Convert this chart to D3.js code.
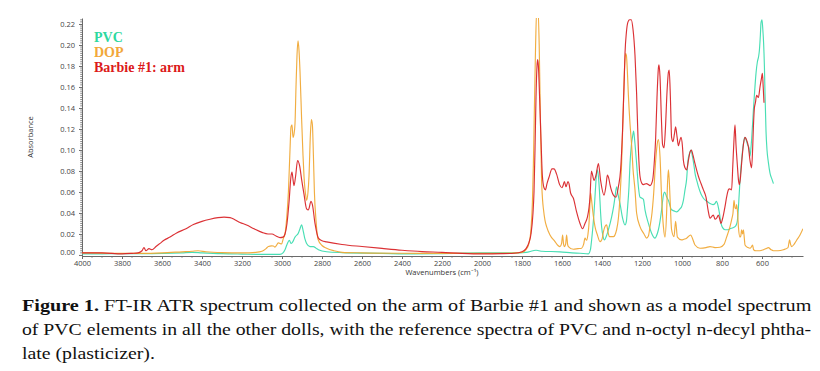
<!DOCTYPE html>
<html><head><meta charset="utf-8">
<script src="https://cdn.jsdelivr.net/npm/d3@7"></script>
<style>
html,body{margin:0;padding:0;background:#fff;}
svg{display:block;}
</style></head>
<body>
<svg id="chart" width="820" height="371"></svg>
<script>
// ---- data (wavenumber in cm-1, absorbance) ----
const pvcWn = [4000,3900,3800,3700,3600,3500,3450,3400,3300,3200,3100,3010,2995,2985,2975,2963,2955,2948,2935,2918,2910,2902,2893,2885,2877,2860,2843,2830,2818,2777,2700,2500,2343,2200,2010,1850,1780,1745,1730,1715,1700,1610,1550,1510,1468,1458,1452,1445,1440,1433,1427,1423,1418,1413,1407,1402,1395,1388,1378,1368,1352,1342,1335,1327,1320,1310,1297,1285,1278,1273,1265,1260,1253,1247,1242,1237,1227,1218,1210,1200,1193,1185,1168,1152,1135,1128,1118,1110,1102,1092,1087,1078,1068,1052,1040,1027,1010,1002,993,985,977,970,962,955,948,940,935,925,918,905,893,875,860,845,835,828,820,813,805,797,785,770,760,745,735,728,723,717,710,702,693,686,680,672,665,660,656,652,647,643,636,630,623,617,613,608,605,600,596,592,588,585,580,575,568,560,550,543];
const pvcAbs = [0.001,0.001,0.0012,0.0012,0.0014,0.002,0.0025,0.002,0.0012,0.0008,0.0005,0.0006,0.002,0.005,0.010,0.014,0.011,0.012,0.017,0.021,0.025,0.0286,0.022,0.015,0.011,0.008,0.008,0.0065,0.005,0.003,0.0022,0.0015,0.001,0.0012,0.002,0.002,0.0025,0.004,0.0045,0.004,0.0035,0.003,0.002,0.0016,0.001,0.005,0.014,0.028,0.040,0.062,0.078,0.081,0.075,0.062,0.040,0.027,0.018,0.0143,0.018,0.024,0.036,0.046,0.055,0.065,0.058,0.049,0.035,0.0286,0.032,0.043,0.065,0.087,0.105,0.113,0.118,0.110,0.087,0.065,0.055,0.054,0.053,0.043,0.030,0.0207,0.016,0.018,0.024,0.032,0.043,0.058,0.060,0.056,0.052,0.043,0.042,0.041,0.044,0.046,0.052,0.062,0.072,0.090,0.097,0.100,0.094,0.085,0.078,0.070,0.065,0.058,0.054,0.051,0.049,0.048,0.049,0.051,0.047,0.040,0.030,0.026,0.024,0.024,0.025,0.026,0.027,0.029,0.033,0.048,0.071,0.090,0.106,0.112,0.110,0.105,0.102,0.094,0.100,0.110,0.125,0.138,0.158,0.173,0.184,0.189,0.195,0.210,0.221,0.224,0.215,0.202,0.180,0.154,0.118,0.100,0.088,0.078,0.072,0.068];

const dopWn = [4000,3900,3800,3700,3600,3500,3450,3420,3380,3300,3200,3130,3100,3080,3068,3052,3043,3035,3018,3002,2993,2985,2977,2968,2960,2955,2950,2945,2940,2935,2930,2925,2920,2915,2910,2902,2895,2890,2880,2877,2870,2865,2858,2853,2848,2843,2838,2830,2820,2800,2777,2740,2700,2600,2400,2200,2000,1850,1800,1780,1765,1755,1748,1743,1738,1732,1726,1720,1714,1708,1702,1697,1693,1685,1677,1660,1635,1620,1610,1602,1597,1592,1588,1582,1577,1572,1568,1543,1520,1502,1492,1485,1477,1470,1465,1460,1457,1452,1447,1435,1423,1410,1400,1393,1385,1377,1370,1363,1343,1327,1318,1310,1302,1295,1288,1282,1278,1272,1268,1260,1252,1245,1235,1227,1210,1190,1177,1168,1160,1150,1143,1130,1122,1118,1110,1102,1093,1085,1077,1072,1068,1064,1060,1052,1040,1032,1023,1002,990,977,965,957,948,935,910,880,860,835,810,790,777,760,750,745,740,735,730,727,722,718,710,706,702,697,693,688,685,670,660,652,647,642,630,610,593,580,568,555,543,520,493,470,462,457,452,440,427,410,395];
const dopAbs = [0.002,0.0018,0.0015,0.0015,0.002,0.003,0.0035,0.004,0.003,0.0022,0.002,0.0025,0.0035,0.006,0.008,0.0086,0.0085,0.0075,0.0115,0.0105,0.016,0.020,0.034,0.060,0.100,0.122,0.124,0.112,0.115,0.125,0.160,0.190,0.204,0.195,0.175,0.130,0.095,0.075,0.055,0.052,0.060,0.075,0.115,0.129,0.124,0.095,0.060,0.033,0.015,0.009,0.0064,0.004,0.0025,0.002,0.0016,0.0015,0.0015,0.0018,0.0025,0.005,0.011,0.025,0.050,0.087,0.140,0.200,0.235,0.235,0.200,0.130,0.071,0.052,0.044,0.033,0.027,0.019,0.0127,0.009,0.008,0.011,0.019,0.010,0.008,0.010,0.019,0.010,0.008,0.0054,0.006,0.0064,0.010,0.016,0.014,0.020,0.030,0.050,0.059,0.052,0.043,0.027,0.019,0.0127,0.015,0.022,0.027,0.0286,0.022,0.0174,0.0174,0.024,0.035,0.055,0.087,0.130,0.175,0.192,0.190,0.170,0.152,0.125,0.105,0.082,0.062,0.040,0.027,0.020,0.016,0.018,0.027,0.040,0.055,0.094,0.108,0.110,0.094,0.055,0.027,0.017,0.040,0.070,0.081,0.072,0.055,0.024,0.0174,0.032,0.017,0.0143,0.015,0.016,0.018,0.019,0.016,0.0095,0.0064,0.007,0.008,0.007,0.0073,0.010,0.017,0.027,0.035,0.040,0.052,0.045,0.044,0.048,0.040,0.027,0.017,0.018,0.024,0.020,0.024,0.015,0.0095,0.007,0.0064,0.008,0.0095,0.005,0.004,0.004,0.005,0.006,0.007,0.005,0.004,0.004,0.005,0.007,0.0143,0.010,0.008,0.010,0.014,0.019,0.025];

const armWn = [4000,3900,3800,3750,3720,3700,3690,3680,3665,3650,3630,3610,3590,3560,3527,3480,3443,3400,3360,3320,3290,3260,3240,3210,3177,3140,3100,3070,3050,3030,3010,2995,2985,2975,2965,2955,2950,2945,2940,2932,2922,2912,2902,2890,2877,2868,2855,2848,2835,2818,2800,2777,2700,2600,2500,2400,2300,2200,2100,2000,1900,1840,1800,1780,1765,1755,1745,1740,1735,1730,1725,1722,1718,1712,1705,1698,1690,1683,1675,1665,1650,1640,1627,1612,1600,1595,1588,1580,1570,1565,1557,1543,1527,1510,1497,1485,1473,1465,1460,1453,1447,1440,1430,1418,1407,1390,1380,1373,1365,1360,1343,1330,1318,1307,1297,1290,1285,1278,1270,1262,1254,1245,1235,1227,1218,1210,1200,1193,1177,1168,1160,1147,1138,1132,1125,1118,1115,1110,1103,1097,1090,1083,1075,1068,1064,1058,1052,1045,1038,1032,1025,1018,1012,1005,998,993,985,977,968,960,953,945,935,918,905,893,880,868,860,850,843,835,827,818,810,805,798,793,785,777,768,763,752,746,740,735,730,723,718,713,707,702,693,685,678,668,660,652,647,643,638,633,627,618,610,603,598,594,590];
const armAbs = [0.002,0.002,0.001,0.0015,0.002,0.004,0.007,0.004,0.006,0.005,0.008,0.011,0.014,0.017,0.021,0.025,0.029,0.032,0.034,0.0355,0.036,0.0355,0.034,0.031,0.0285,0.025,0.0215,0.020,0.020,0.018,0.0165,0.017,0.020,0.030,0.050,0.075,0.079,0.072,0.066,0.075,0.090,0.085,0.072,0.058,0.044,0.043,0.051,0.048,0.030,0.016,0.0135,0.0125,0.010,0.008,0.0062,0.0045,0.0032,0.0025,0.0015,0.001,0.0012,0.0016,0.003,0.006,0.012,0.020,0.040,0.060,0.100,0.150,0.180,0.186,0.180,0.150,0.110,0.075,0.064,0.062,0.068,0.074,0.082,0.082,0.077,0.067,0.064,0.066,0.070,0.065,0.070,0.068,0.059,0.054,0.041,0.030,0.025,0.030,0.036,0.045,0.055,0.080,0.076,0.071,0.076,0.087,0.071,0.057,0.066,0.076,0.072,0.067,0.057,0.055,0.065,0.081,0.120,0.160,0.192,0.212,0.222,0.224,0.224,0.215,0.190,0.154,0.100,0.075,0.068,0.067,0.068,0.067,0.066,0.071,0.090,0.110,0.150,0.178,0.181,0.170,0.130,0.105,0.102,0.120,0.155,0.174,0.176,0.150,0.112,0.108,0.115,0.122,0.113,0.104,0.108,0.112,0.104,0.090,0.083,0.081,0.090,0.098,0.100,0.095,0.087,0.075,0.068,0.062,0.055,0.041,0.035,0.037,0.038,0.034,0.035,0.038,0.033,0.030,0.034,0.038,0.046,0.055,0.062,0.063,0.062,0.085,0.110,0.124,0.105,0.085,0.072,0.067,0.075,0.087,0.105,0.112,0.110,0.103,0.090,0.083,0.100,0.122,0.140,0.145,0.152,0.150,0.160,0.168,0.173,0.160,0.145];

const xTickValues = [4000,3800,3600,3400,3200,3000,2800,2600,2400,2200,2000,1800,1600,1400,1200,1000,800,600];
const yTickValues = [0.00,0.02,0.04,0.06,0.08,0.10,0.12,0.14,0.16,0.18,0.20,0.22];
const seriesNames = ["PVC","DOP","Barbie #1: arm"];
const seriesColors = ["#3fdcb0","#f0a937","#d9262a"];
const legendColors = ["#2ed89f","#f2a83a","#dc1a1a"];
const captionLines = [
  ["Figure 1.", " FT-IR ATR spectrum collected on the arm of Barbie #1 and shown as a model spectrum"],
  ["", "of PVC elements in all the other dolls, with the reference spectra of PVC and n-octyl n-decyl phtha-"],
  ["", "late (plasticizer)."]
];

// ---- drawing ----
const svg = d3.select("#chart");
svg.append("rect").attr("width",820).attr("height",371).attr("fill","#fff");

const pLeft = 82, pRight = 803, pTop = 18, pBottom = 256;
const x = d3.scaleLinear().domain([4000, 395]).range([pLeft, pRight]);
const y = d3.scaleLinear().domain([-0.001, 0.2257]).range([pBottom, pTop]);

svg.append("clipPath").attr("id","plotclip")
  .append("rect").attr("x",pLeft).attr("y",pTop).attr("width",pRight-pLeft).attr("height",pBottom-pTop);

const axisColor = "#6a6a6a";
const tickFont = "'Open Sans', 'Liberation Sans', sans-serif";

// x axis
const xAxis = svg.append("g").attr("transform",`translate(0,${pBottom})`)
  .call(d3.axisBottom(x).tickValues(xTickValues).tickSize(3).tickSizeOuter(0).tickFormat(d3.format("d")));
xAxis.select(".domain").attr("stroke",axisColor);
xAxis.selectAll(".tick line").attr("stroke",axisColor);
xAxis.selectAll(".tick text").attr("fill","#444").attr("font-size","7.5px").attr("font-family",tickFont).attr("dy","0.55em");
const xMinor = d3.range(4000, 395, -50).filter(v => v % 200 !== 0);
svg.append("g").selectAll("line").data(xMinor).join("line")
  .attr("x1",d=>x(d)).attr("x2",d=>x(d)).attr("y1",pBottom).attr("y2",pBottom+1.8)
  .attr("stroke",axisColor).attr("stroke-width",0.8);

// y axis
const yAxis = svg.append("g").attr("transform",`translate(${pLeft},0)`)
  .call(d3.axisLeft(y).tickValues(yTickValues).tickSize(3).tickSizeOuter(0).tickFormat(d3.format(".2f")));
yAxis.select(".domain").attr("stroke",axisColor);
yAxis.selectAll(".tick line").attr("stroke",axisColor);
yAxis.selectAll(".tick text").attr("fill","#444").attr("font-size","7.5px").attr("font-family",tickFont).attr("x",-7);
yAxis.selectAll(".tick").filter(d => d === 0).select("text").attr("dy","-0.05em");
const yMinor = d3.range(0, 0.2251, 0.002).filter(v => Math.abs(v/0.02 - Math.round(v/0.02)) > 1e-6);
svg.append("g").selectAll("line").data(yMinor).join("line")
  .attr("x1",pLeft-1.8).attr("x2",pLeft).attr("y1",d=>y(d)).attr("y2",d=>y(d))
  .attr("stroke",axisColor).attr("stroke-width",0.8);

// axis titles
svg.append("text").attr("x",442).attr("y",275).attr("text-anchor","middle")
  .attr("font-size","7.5px").attr("font-family",tickFont).attr("fill","#333")
  .text("Wavenumbers (cm\u207B\u00B9)");
svg.append("text").attr("transform","translate(33,137) rotate(-90)").attr("text-anchor","middle")
  .attr("font-size","7.5px").attr("font-family",tickFont).attr("fill","#333")
  .text("Absorbance");

// spectra
const series = [
  {wn: pvcWn, abs: pvcAbs},
  {wn: dopWn, abs: dopAbs},
  {wn: armWn, abs: armAbs}
];
const line = d3.line().x(d=>x(d[0])).y(d=>y(d[1])).curve(d3.curveMonotoneX);
const plot = svg.append("g").attr("clip-path","url(#plotclip)");
series.forEach((s,i) => {
  const pts = s.wn.map((w,j)=>[w, s.abs[j]]);
  plot.append("path").datum(pts).attr("d",line)
    .attr("fill","none").attr("stroke",seriesColors[i]).attr("stroke-width",1.15)
    .attr("stroke-linejoin","round").attr("stroke-opacity",0.95);
});

// legend
const legend = svg.append("g");
seriesNames.forEach((n,i)=>{
  legend.append("text").attr("x",94).attr("y",42 + i*14.8)
    .attr("font-family","'Liberation Serif', 'Times New Roman', serif").attr("font-weight","bold")
    .attr("font-size","14px").attr("fill",legendColors[i]).text(n);
});

// caption (glyphs stretched horizontally to match the wider book face of the original)
const capFont = "'Liberation Serif', 'Times New Roman', serif";
const capG = svg.append("g");
const capBaselines = [311, 335, 359];
const capTargets = [790, 790, 133];
captionLines.forEach((ln,i)=>{
  const t = capG.append("text").attr("x",0).attr("y",0)
    .attr("font-family",capFont).attr("font-size","17px").attr("fill","#111");
  if (ln[0]) t.append("tspan").attr("font-weight","bold").text(ln[0]);
  t.append("tspan").text(ln[1]);
  const natural = t.node().getComputedTextLength();
  const k = capTargets[i] / natural;
  t.attr("transform", `translate(22,${capBaselines[i]}) scale(${k.toFixed(4)},1)`);
});
</script>
</body></html>
